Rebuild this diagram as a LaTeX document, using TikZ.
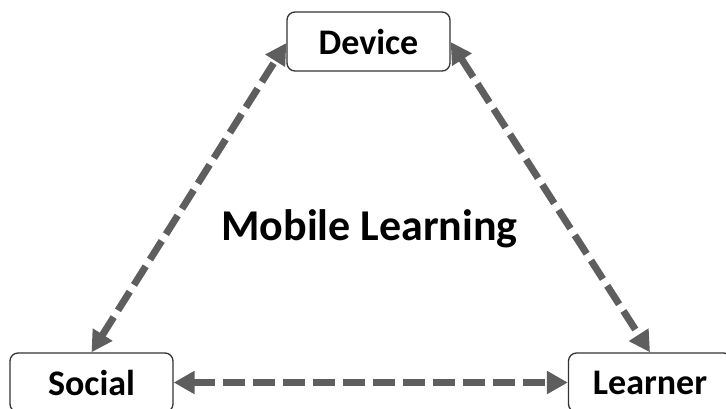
\documentclass[tikz,border=0pt]{standalone}
\usepackage{fontspec}
\setmainfont{Carlito}
\usetikzlibrary{arrows.meta}
\definecolor{linkgray}{HTML}{5E5E5E}
\definecolor{framegray}{HTML}{333333}
\tikzset{
  x=1pt, y=-1pt,
  box/.style={draw=framegray, line width=1.3pt, rounded corners=8pt,
    minimum width=163pt, minimum height=59pt, inner sep=0pt,
    font=\fontsize{36}{40}\selectfont\bfseries},
  link/.style={draw=linkgray, line width=7pt, dash pattern=on 22pt off 8pt,
    {Triangle[length=21pt,width=22pt]}-{Triangle[length=21pt,width=22pt]}}
}
\begin{document}
\begin{tikzpicture}
  \useasboundingbox (0,0) rectangle (726,408);
  \node[box] (device)  at (368.5,41.5) {Device};
  \node[box] (social)  at (91.5,382.5) {Social};
  \node[box] (learner) at (650,382.5) {Learner};
  \node[font=\fontsize{44}{50}\selectfont\bfseries] (ml) at (369.5,229) {Mobile Learning};
  \draw[link] (social.north) -- ([yshift=-1.5pt]device.west);
  \draw[link] ([yshift=-0.5pt]device.east) -- (learner.north);
  \draw[link] (social.east) -- (learner.west);
\end{tikzpicture}
\end{document}
